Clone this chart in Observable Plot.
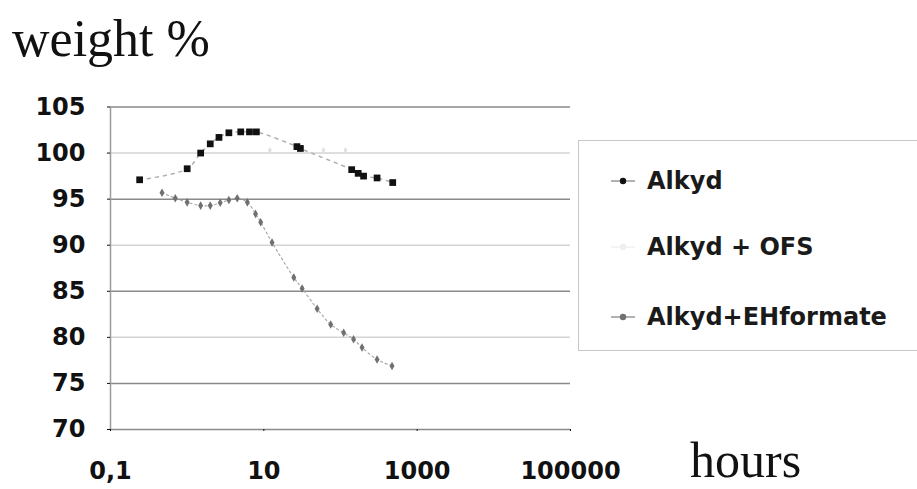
<!DOCTYPE html>
<html>
<head>
<meta charset="utf-8">
<script src="https://cdn.jsdelivr.net/npm/d3@7"></script>
<script src="https://cdn.jsdelivr.net/npm/@observablehq/plot@0.6"></script>
<style>
  html, body { margin: 0; padding: 0; background: #fff; }
  #wrap { position: relative; width: 917px; height: 489px; overflow: hidden; }
  #wrap > svg { position: absolute; left: 0; top: 0; }
  .serif { position: absolute; font-family: "Liberation Serif", "Times New Roman", serif; color: #111; line-height: 40px; white-space: nowrap; }
  #legend { position: absolute; left: 578px; top: 140px; width: 360px; height: 211px; border: 1px solid #c8c8c8; box-sizing: border-box; }
  .item { position: absolute; left: 0; height: 30px; display: flex; align-items: center; font-family: "DejaVu Sans", sans-serif; font-weight: bold; font-size: 24px; color: #1a1a1a; white-space: nowrap; }
  .item svg { margin-left: 30px; margin-right: 10px; }
</style>
</head>
<body>
<div id="wrap">
  <div class="serif" style="left:12px; top:19px; font-size:52px;">weight %</div>
  <div class="serif" style="left:690px; top:440px; font-size:50px;">hours</div>
  <div id="legend"></div>
</div>
<script>
// ---- data ----
const seriesNames = ["Alkyd", "Alkyd + OFS", "Alkyd+EHformate"];

const alkydHours  = [0.24, 1.0, 1.5, 2.0, 2.6, 3.5, 5.0, 6.5, 8.0, 27, 30, 140, 170, 200, 300, 480];
const alkydWeight = [97.1, 98.3, 100.0, 101.0, 101.7, 102.2, 102.3, 102.3, 102.3, 100.7, 100.5, 98.2, 97.8, 97.5, 97.3, 96.8];

const ofsHours  = [12, 30, 60, 116];
const ofsWeight = [100.3, 100.3, 100.3, 100.3];

const ehHours  = [0.47, 0.7, 1.0, 1.5, 2.0, 2.7, 3.5, 4.5, 6.1, 7.8, 9.1, 12.8, 24.6, 31.6, 49.6, 74.5, 110, 148, 191, 300, 470];
const ehWeight = [95.7, 95.1, 94.65, 94.3, 94.3, 94.6, 94.9, 95.1, 94.65, 93.4, 92.5, 90.3, 86.5, 85.3, 83.1, 81.4, 80.5, 79.8, 78.9, 77.6, 76.9];

const yTicks = [70, 75, 80, 85, 90, 95, 100, 105];
const gridStrong = [105, 95, 85, 75, 70];
const gridFaint = [100, 90, 80];
const xTicks = [0.1, 10, 1000, 100000];
const xTickLabels = ["0,1", "10", "1000", "100000"];

// ---- tables ----
const alkyd = alkydHours.map((h, i) => ({h, w: alkydWeight[i]}));
const ofs = ofsHours.map((h, i) => ({h, w: ofsWeight[i]}));
const eh = ehHours.map((h, i) => ({h, w: ehWeight[i]}));

const colors = {alkyd: "#111", ofs: "#e0e0e0", eh: "#707070"};
const xLabelFor = d => {
  const i = xTicks.findIndex(t => Math.abs(Math.log10(t) - Math.log10(d)) < 1e-6);
  return i >= 0 ? xTickLabels[i] : "";
};

const chart = Plot.plot({
  width: 917,
  height: 489,
  marginLeft: 110,
  marginRight: 347,
  marginTop: 106.5,
  marginBottom: 60,
  style: {fontFamily: "DejaVu Sans, sans-serif", fontWeight: "bold", fontSize: "24px", color: "#111", background: "transparent"},
  x: {type: "log", domain: [0.1, 100000]},
  y: {domain: [70, 105]},
  marks: [
    Plot.ruleY(gridFaint, {stroke: "#d4d4d4", strokeWidth: 1.5}),
    Plot.ruleY(gridStrong, {stroke: "#8a8a8a", strokeWidth: 1.5}),
    Plot.ruleX([0.1], {y1: 70, y2: 105, stroke: "#9a9a9a", strokeWidth: 1.5}),
    Plot.axisY({ticks: yTicks, tickSize: 3, tickPadding: 22, label: null}),
    Plot.axisX({ticks: xTicks, tickFormat: xLabelFor, tickSize: 2, tickPadding: 30, label: null}),
    // Alkyd + OFS (very faint)
    Plot.dot(ofs, {x: "h", y: "w", fill: colors.ofs, r: 2, symbol: "diamond"}),
    // Alkyd + EHformate
    Plot.line(eh, {x: "h", y: "w", stroke: "#a8a8a8", strokeWidth: 1.2, strokeDasharray: "2,3", curve: "catmull-rom"}),
    Plot.dot(eh, {x: "h", y: "w", fill: colors.eh, r: 2.6, symbol: "diamond"}),
    // Alkyd
    Plot.line(alkyd, {x: "h", y: "w", stroke: "#b0b0b0", strokeWidth: 1.5, strokeDasharray: "3,5", curve: "catmull-rom"}),
    Plot.dot(alkyd, {x: "h", y: "w", fill: colors.alkyd, r: 3.8, symbol: "square"})
  ]
});
document.getElementById("wrap").prepend(chart);

// ---- legend ----
const legend = document.getElementById("legend");
const legendColors = [colors.alkyd, "#eeeeee", colors.eh];
const legendLine = ["#999", "#f0f0f0", "#999"];
const rowTops = [25, 91, 161];
seriesNames.forEach((name, i) => {
  const row = document.createElement("div");
  row.className = "item";
  row.style.top = rowTops[i] + "px";
  const ns = "http://www.w3.org/2000/svg";
  const s = document.createElementNS(ns, "svg");
  s.setAttribute("width", 28); s.setAttribute("height", 12);
  const ln = document.createElementNS(ns, "line");
  ln.setAttribute("x1", 2); ln.setAttribute("x2", 26); ln.setAttribute("y1", 6); ln.setAttribute("y2", 6);
  ln.setAttribute("stroke", legendLine[i]); ln.setAttribute("stroke-width", 1.5);
  const c = document.createElementNS(ns, "circle");
  c.setAttribute("cx", 14); c.setAttribute("cy", 6); c.setAttribute("r", 3.2);
  c.setAttribute("fill", legendColors[i]);
  s.appendChild(ln); s.appendChild(c);
  row.appendChild(s);
  const t = document.createElement("span");
  t.textContent = name;
  row.appendChild(t);
  legend.appendChild(row);
});
</script>
</body>
</html>
